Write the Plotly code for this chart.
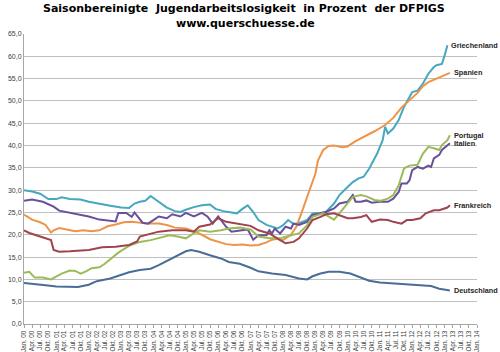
import plotly.graph_objects as go
import pandas as pd

# months since Jan 2000 and youth unemployment rates (%)
gr_m = [0,3,6,9,12,14,17,21,24,28,32,36,39,41,43,45,47,49,51,53,56,58,60,63,66,69,71,74,77,79,81,83,85,87,90,94,96,98,100,102,105,107,110,112,115,117,120,122,124,126,128,131,133,134,135,137,139,141,143,144,146,148,150,152,153,155,156,157]
gr_v = [30.0,29.7,29.2,28.0,28.0,28.4,28.0,27.9,27.4,26.9,26.5,26.1,26.0,27.0,27.4,27.6,28.7,27.8,27.0,26.1,25.3,25.1,25.6,26.2,26.6,26.8,25.8,25.3,25.0,24.8,25.8,26.6,25.1,23.3,22.2,21.4,22.1,23.3,22.4,22.6,23.3,24.8,24.9,25.1,27.0,28.9,30.7,31.8,32.6,33.0,34.8,38.2,41.2,44.2,42.7,43.8,45.7,48.7,50.9,52.0,52.3,53.9,56.1,57.6,58.0,58.3,60.2,62.5]

es_m = [0,3,6,8,10,11,13,16,19,22,25,28,31,34,37,40,43,46,50,53,56,60,63,66,69,72,75,78,81,84,87,90,92,94,96,99,101,103,105,107,108,109,111,113,115,118,120,123,126,130,134,137,140,143,146,148,150,153,155,158]
es_v = [24.5,23.4,22.8,22.2,20.5,21.0,21.5,21.2,20.8,21.0,20.8,21.0,21.9,22.3,22.8,22.9,22.7,22.5,22.5,22.2,21.6,21.4,20.8,20.0,19.0,18.5,17.9,17.7,17.8,17.6,17.7,18.3,18.9,19.1,18.8,20.0,21.8,25.0,28.5,31.5,33.6,36.7,39.0,39.9,40.0,39.6,39.8,41.0,41.9,43.2,44.6,46.2,48.5,50.2,51.8,53.3,54.2,55.0,55.6,56.3]

it_m = [0,3,7,11,13,17,21,24,28,32,34,35,38,40,41,44,46,48,50,53,55,58,60,63,66,68,70,72,75,77,80,83,85,87,90,91,92,93,95,97,99,100,102,105,107,110,112,115,117,120,122,123,125,127,129,132,135,137,139,140,142,143,144,146,148,150,151,152,154,155,157,158]
it_v = [27.6,27.9,27.4,26.3,25.4,24.9,24.4,24.1,23.4,23.1,23.0,24.9,24.9,24.0,25.0,22.7,22.5,23.3,24.1,23.7,24.6,24.1,24.9,24.1,24.9,24.1,22.5,24.1,21.8,20.7,21.0,21.2,18.9,19.9,19.9,21.0,20.3,21.4,20.3,21.8,21.4,22.5,22.2,22.9,24.4,24.8,25.1,25.9,27.0,27.4,28.9,27.4,27.4,27.7,27.2,27.4,27.4,28.1,29.6,31.5,31.5,32.2,34.5,35.2,34.8,35.5,35.2,37.1,37.9,39.0,40.1,40.5]

pt_m = [0,2,4,7,10,12,14,17,19,21,23,25,28,30,32,35,39,43,47,50,54,57,60,63,65,69,73,76,80,84,87,91,95,99,102,105,107,111,113,115,117,120,122,125,127,130,132,135,137,139,140,141,143,146,148,150,152,154,155,157,158]
pt_v = [11.5,11.7,10.4,10.4,10.0,10.6,11.3,12.0,11.9,11.3,11.8,12.5,12.7,13.5,14.5,16.0,17.5,18.4,18.8,19.2,19.9,19.6,19.2,20.3,21.0,20.7,21.0,21.4,21.6,21.2,19.6,19.2,19.2,19.9,20.3,22.1,24.0,24.8,24.0,23.4,24.8,27.0,28.5,28.9,28.6,27.8,27.6,28.1,28.9,31.1,33.0,34.9,35.5,35.7,38.2,39.7,39.4,39.0,40.1,41.2,42.3]

fr_m = [0,2,6,10,11,13,17,20,24,29,34,39,42,43,47,50,55,60,63,65,69,72,75,77,80,84,87,91,95,97,100,102,105,107,110,112,115,117,120,122,125,127,129,132,135,137,140,142,144,147,149,152,154,157,158]
fr_v = [21.0,20.4,19.6,18.8,16.6,16.2,16.3,16.4,16.6,17.2,17.3,17.7,18.5,19.6,20.3,20.7,21.0,21.0,20.7,21.8,22.3,23.7,22.9,22.7,22.4,22.0,21.0,20.3,18.8,18.1,18.4,19.2,21.4,23.3,24.0,24.6,24.8,24.4,23.7,23.7,24.0,24.4,22.9,23.4,23.3,22.9,22.5,23.3,23.3,23.7,24.8,25.5,25.5,26.1,26.6]

de_m = [0,4,8,12,16,20,24,27,32,36,39,43,47,50,54,58,60,62,65,69,73,76,80,84,87,92,97,102,105,107,110,113,117,121,125,128,132,136,140,143,147,151,154,157,158]
de_v = [9.2,9.0,8.7,8.4,8.3,8.3,8.8,9.6,10.2,11.0,11.6,12.1,12.4,13.2,14.5,15.7,16.3,16.6,16.2,15.4,14.7,13.9,13.5,12.6,11.8,11.3,11.0,10.2,10.0,10.7,11.3,11.7,11.7,11.3,10.4,9.7,9.3,9.1,9.0,8.8,8.7,8.5,7.9,7.5,7.5]

series = [
    ("Griechenland", gr_m, gr_v, "#45A8BE"),
    ("Spanien", es_m, es_v, "#EE9448"),
    ("Italien", it_m, it_v, "#68509A"),
    ("Portugal", pt_m, pt_v, "#9BBB59"),
    ("Frankreich", fr_m, fr_v, "#A0434D"),
    ("Deutschland", de_m, de_v, "#4A6D97"),
]

month_abbr = ["Jan.", "Apr.", "Jul.", "Okt."]
start = pd.Timestamp("2000-01-01")

def to_dates(months):
    return [start + pd.DateOffset(months=int(m)) for m in months]

tick_dates = [start + pd.DateOffset(months=3 * i) for i in range(57)]
tick_text = [f"{month_abbr[i % 4]} {(i // 4) % 100:02d}" for i in range(57)]

fig = go.Figure()
annotations = []
for name, ms, vs, col in series:
    xs = to_dates(ms)
    fig.add_trace(go.Scatter(x=xs, y=vs, mode="lines", name=name,
                             line=dict(color=col, width=2), showlegend=False))
    annotations.append(dict(x=xs[-1], y=vs[-1], xref="x", yref="y", text=f"<b>{name}</b>",
                            showarrow=False, xanchor="left", yanchor="middle", xshift=2,
                            font=dict(family="Liberation Sans, Arial", size=7.3, color="#262626")))

annotations.append(dict(x=0.486, y=1, xref="paper", yref="paper", yshift=26,
                        text="<b>Saisonbereinigte\u00a0 Jugendarbeitslosigkeit\u00a0 in Prozent\u00a0 der DFPIGS</b>",
                        showarrow=False, xanchor="center", yanchor="middle",
                        font=dict(family="DejaVu Sans", size=11, color="#000000")))
annotations.append(dict(x=0.488, y=1, xref="paper", yref="paper", yshift=10.5,
                        text="<b>www.querschuesse.de</b>",
                        showarrow=False, xanchor="center", yanchor="middle",
                        font=dict(family="DejaVu Sans", size=11, color="#000000")))

fig.update_layout(
    width=500, height=352,
    margin=dict(l=24, r=23, t=34, b=28),
    paper_bgcolor="white", plot_bgcolor="white",
    separators=",.",
    annotations=annotations,
    xaxis=dict(type="date", range=[start, start + pd.DateOffset(months=168)],
               tickmode="array", tickvals=tick_dates, ticktext=tick_text,
               tickangle=-90, tickfont=dict(family="Liberation Sans, Arial", size=6.5, color="#404040"),
               showgrid=False, showline=True, linecolor="#A6A6A6", linewidth=1,
               ticks="outside", ticklen=3, tickcolor="#A6A6A6", automargin=False, zeroline=False),
    yaxis=dict(range=[0, 65], tickmode="linear", tick0=0, dtick=5, tickformat=".1f",
               tickfont=dict(family="Liberation Sans, Arial", size=7, color="#404040"),
               showgrid=True, gridcolor="#BFBFBF", gridwidth=1.2,
               showline=True, linecolor="#A6A6A6", linewidth=1, ticks="", ticklen=0,
               automargin=False, zeroline=False),
)

fig.write_html("out.html")
